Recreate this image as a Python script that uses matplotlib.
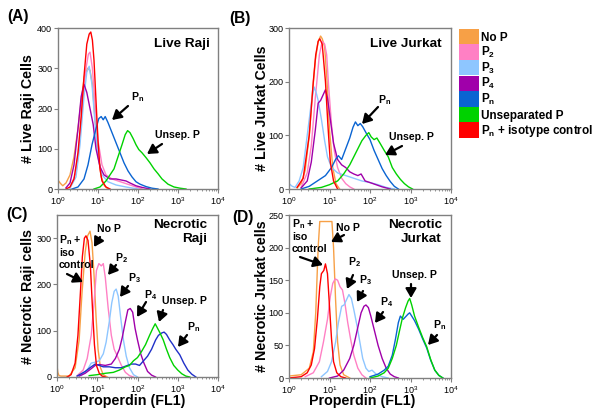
import numpy as np
import matplotlib
matplotlib.use('Agg')
import matplotlib.pyplot as plt
from matplotlib.patches import Patch, FancyArrowPatch

plt.rcParams['font.family'] = ['Liberation Sans', 'DejaVu Sans']

W, H = 601, 415

# ---------------- legend / series ----------------
SERIES = ['NOP', 'P2', 'P3', 'P4', 'PN', 'UNSEP', 'ISO']
LEGEND_LABELS = ['No P', r'$\mathregular{P_2}$', r'$\mathregular{P_3}$', r'$\mathregular{P_4}$',
                 r'$\mathregular{P_n}$', 'Unseparated P', r'$\mathregular{P_n}$ + isotype control']
COLORS = {'NOP': '#F7A046', 'P2': '#FF80C4', 'P3': '#8EC6FF', 'P4': '#A000AA',
          'PN': '#0A64D2', 'UNSEP': '#00D200', 'ISO': '#FF0000'}

# ---------------- data: (log10 FL1, count) ----------------
# Panel A: Live Raji
A_NOP = ([0, 0.06, 0.12, 0.2, 0.3, 0.4, 0.5, 0.58, 0.66, 0.74, 0.8, 0.86, 0.92, 1.0, 1.08, 1.16, 1.25],
         [22, 14, 8, 15, 35, 80, 150, 220, 280, 300, 295, 260, 180, 90, 30, 8, 0])
A_P2 = ([0.3, 0.45, 0.55, 0.62, 0.7, 0.76, 0.8, 0.86, 0.92, 1.0, 1.1, 1.2, 1.35, 1.5, 1.65, 1.8, 1.95, 2.1],
        [3, 40, 130, 230, 300, 335, 340, 300, 220, 120, 60, 35, 25, 20, 15, 10, 5, 0])
A_P3 = ([0.3, 0.45, 0.55, 0.65, 0.72, 0.78, 0.85, 0.92, 1.0, 1.1, 1.25, 1.45, 1.7, 2.0],
        [2, 30, 110, 230, 290, 305, 260, 170, 80, 35, 18, 10, 5, 0])
A_P4 = ([0.2, 0.3, 0.4, 0.5, 0.58, 0.65, 0.72, 0.8, 0.88, 0.95, 1.05, 1.15, 1.3, 1.45, 1.6, 1.7, 1.8, 1.95, 2.1, 2.3],
        [3, 15, 60, 150, 230, 260, 240, 200, 160, 100, 55, 35, 25, 25, 22, 20, 15, 8, 4, 0])
A_PN = ([0.35, 0.5, 0.65, 0.75, 0.85, 0.95, 1.02, 1.08, 1.13, 1.18, 1.25, 1.35, 1.45, 1.55, 1.65, 1.75, 1.85, 1.95, 2.05, 2.2, 2.35, 2.5],
        [0, 5, 25, 60, 110, 150, 175, 180, 172, 180, 165, 140, 115, 90, 65, 45, 30, 18, 12, 6, 2, 0])
A_UNSEP = ([0.9, 1.05, 1.2, 1.3, 1.4, 1.5, 1.6, 1.68, 1.74, 1.8, 1.88, 1.95, 2.02, 2.1, 2.2, 2.3, 2.4, 2.5, 2.6, 2.75, 2.9, 3.05, 3.2],
           [0, 5, 20, 35, 50, 80, 110, 135, 145, 140, 125, 110, 98, 90, 78, 65, 50, 38, 25, 12, 5, 2, 0])
A_ISO = ([0.2, 0.3, 0.4, 0.5, 0.58, 0.65, 0.72, 0.78, 0.82, 0.86, 0.9, 0.95, 1.0, 1.05, 1.1, 1.2, 1.3],
         [0, 5, 25, 90, 180, 280, 360, 385, 390, 370, 320, 220, 120, 50, 20, 5, 0])

# Panel B: Live Jurkat
B_NOP = ([0.2, 0.3, 0.4, 0.5, 0.58, 0.65, 0.72, 0.78, 0.82, 0.88, 0.94, 1.0, 1.08, 1.16, 1.25],
         [2, 10, 35, 100, 180, 240, 275, 285, 280, 265, 200, 110, 40, 10, 0])
B_P2 = ([0.3, 0.45, 0.55, 0.65, 0.75, 0.82, 0.88, 0.93, 0.98, 1.05, 1.12, 1.2, 1.3, 1.4, 1.5, 1.6],
        [3, 30, 80, 170, 250, 275, 270, 250, 190, 120, 70, 40, 20, 10, 4, 0])
B_P3 = ([0, 0.08, 0.15, 0.25, 0.35, 0.45, 0.55, 0.62, 0.67, 0.72, 0.8, 0.88, 0.95, 1.05, 1.2, 1.4, 1.6, 1.8, 2.0, 2.2, 2.4, 2.6],
        [10, 5, 3, 15, 40, 100, 160, 190, 180, 165, 130, 90, 60, 40, 30, 25, 20, 15, 12, 8, 3, 0])
B_P4 = ([0.3, 0.45, 0.55, 0.65, 0.72, 0.78, 0.84, 0.9, 0.95, 1.02, 1.1, 1.2, 1.3, 1.4, 1.5, 1.6, 1.7, 1.78, 1.88, 2.0, 2.15, 2.3, 2.5],
        [2, 15, 50, 110, 160, 165, 175, 185, 170, 130, 85, 55, 45, 40, 32, 28, 25, 28, 15, 12, 8, 4, 0])
B_PN = ([0.3, 0.5, 0.7, 0.9, 1.05, 1.15, 1.22, 1.3, 1.4, 1.5, 1.58, 1.64, 1.7, 1.76, 1.82, 1.9, 2.0, 2.1, 2.2, 2.3, 2.4, 2.5, 2.6, 2.7],
        [0, 5, 15, 25, 40, 55, 62, 55, 75, 95, 115, 125, 118, 122, 116, 105, 92, 72, 55, 38, 25, 14, 5, 0])
B_UNSEP = ([0.5, 0.8, 1.0, 1.2, 1.35, 1.5, 1.6, 1.7, 1.8, 1.9, 1.97, 2.03, 2.1, 2.17, 2.25, 2.35, 2.45, 2.55, 2.65, 2.75, 2.85, 2.95, 3.05],
           [0, 3, 8, 15, 28, 45, 60, 75, 90, 100, 105, 97, 92, 95, 85, 72, 60, 40, 28, 18, 10, 4, 0])
B_ISO = ([0.2, 0.35, 0.5, 0.6, 0.66, 0.72, 0.76, 0.82, 0.9, 0.96, 1.02, 1.1, 1.2],
         [3, 20, 100, 200, 250, 275, 280, 270, 200, 120, 50, 15, 0])

# Panel C: Necrotic Raji
C_NOP = ([0, 0.02, 0.05, 0.1, 0.3, 0.45, 0.55, 0.62, 0.7, 0.76, 0.82, 0.87, 0.92, 0.97, 1.02, 1.08, 1.15, 1.25],
         [25, 10, 3, 2, 2, 20, 80, 180, 270, 305, 315, 290, 220, 130, 60, 20, 5, 0])
C_P2 = ([0.5, 0.65, 0.75, 0.85, 0.92, 0.98, 1.04, 1.1, 1.15, 1.2, 1.27, 1.35, 1.42, 1.5, 1.6, 1.7, 1.8, 1.9],
        [3, 15, 40, 90, 160, 230, 245, 240, 245, 215, 150, 90, 60, 45, 25, 10, 3, 0])
C_P3 = ([0.6, 0.75, 0.85, 0.95, 1.05, 1.15, 1.22, 1.3, 1.36, 1.42, 1.47, 1.52, 1.58, 1.65, 1.72, 1.8, 1.9, 2.0],
        [3, 15, 30, 32, 35, 50, 75, 120, 160, 185, 190, 175, 130, 80, 45, 20, 5, 0])
C_P4 = ([0.55, 0.7, 0.85, 0.95, 1.05, 1.2, 1.35, 1.45, 1.55, 1.62, 1.7, 1.76, 1.82, 1.88, 1.94, 2.0, 2.08, 2.16, 2.25, 2.35, 2.45],
        [2, 8, 18, 25, 27, 25, 28, 40, 60, 85, 120, 145, 148, 140, 105, 80, 50, 30, 12, 4, 0])
C_PN = ([0.5, 0.7, 0.85, 0.95, 1.05, 1.15, 1.3, 1.45, 1.6, 1.75, 1.85, 1.95, 2.05, 2.15, 2.25, 2.35, 2.45, 2.52, 2.6, 2.66, 2.72, 2.8, 2.88, 2.95, 3.05, 3.15, 3.25, 3.35, 3.45],
        [2, 12, 22, 28, 25, 22, 22, 20, 20, 25, 28, 28, 25, 35, 45, 60, 80, 90, 95, 97, 92, 80, 70, 60, 48, 30, 15, 6, 0])
C_UNSEP = ([0.8, 1.0, 1.2, 1.4, 1.55, 1.7, 1.8, 1.9, 2.0, 2.1, 2.2, 2.3, 2.38, 2.44, 2.5, 2.56, 2.64, 2.72, 2.8, 2.9, 3.0, 3.1, 3.2, 3.3],
           [3, 5, 8, 10, 15, 22, 25, 35, 42, 55, 70, 90, 105, 115, 105, 95, 80, 60, 42, 25, 15, 7, 2, 0])
C_ISO = ([0.25, 0.35, 0.45, 0.52, 0.58, 0.63, 0.68, 0.72, 0.77, 0.83, 0.88, 0.93, 0.98, 1.05, 1.12, 1.2],
         [0, 5, 30, 90, 180, 260, 300, 305, 295, 240, 150, 70, 25, 8, 2, 0])

# Panel D: Necrotic Jurkat
D_NOP = ([0, 0.3, 0.5, 0.6, 0.66, 0.72, 0.76, 0.85, 0.95, 1.06, 1.1, 1.15, 1.2, 1.26, 1.35, 1.5],
         [3, 5, 15, 40, 100, 200, 240, 240, 240, 240, 200, 120, 55, 20, 5, 0])
D_P2 = ([0.4, 0.6, 0.75, 0.85, 0.95, 1.02, 1.08, 1.14, 1.2, 1.26, 1.32, 1.38, 1.45, 1.52, 1.6, 1.7, 1.8, 1.9],
        [2, 8, 25, 55, 90, 125, 145, 152, 150, 140, 135, 115, 85, 60, 35, 15, 5, 0])
D_P3 = ([0.8, 0.95, 1.05, 1.15, 1.22, 1.3, 1.36, 1.42, 1.48, 1.54, 1.6, 1.68, 1.75, 1.82, 1.9, 1.97, 2.05, 2.15, 2.3, 2.45],
        [2, 10, 25, 55, 85, 110, 112, 120, 128, 122, 105, 80, 55, 30, 15, 10, 12, 6, 2, 0])
D_P4 = ([1.0, 1.2, 1.35, 1.5, 1.6, 1.7, 1.78, 1.85, 1.9, 1.96, 2.02, 2.1, 2.2, 2.3, 2.4, 2.5, 2.6, 2.7],
        [0, 3, 12, 30, 50, 78, 100, 110, 112, 108, 95, 75, 50, 30, 15, 6, 2, 0])
D_PN = ([2.0, 2.2, 2.35, 2.45, 2.55, 2.63, 2.7, 2.75, 2.82, 2.88, 2.94, 2.98, 3.03, 3.1, 3.2, 3.3, 3.4, 3.5, 3.6, 3.7, 3.8],
        [2, 6, 12, 18, 35, 60, 85, 95, 90, 94, 98, 100, 95, 88, 75, 60, 46, 27, 12, 4, 0])
D_UNSEP = ([2.0, 2.2, 2.35, 2.45, 2.55, 2.65, 2.72, 2.8, 2.88, 2.94, 2.98, 3.03, 3.1, 3.2, 3.3, 3.4, 3.5, 3.6, 3.7, 3.8],
           [0, 3, 8, 15, 30, 50, 70, 92, 108, 118, 122, 112, 95, 78, 62, 48, 28, 12, 4, 0])
D_ISO = ([0, 0.3, 0.45, 0.55, 0.63, 0.7, 0.76, 0.8, 0.86, 0.9, 0.95, 1.0, 1.05, 1.1, 1.18, 1.28, 1.4],
         [0, 2, 8, 20, 45, 90, 140, 160, 165, 175, 160, 110, 60, 25, 8, 2, 0])

PANELS = {
    'A': dict(data={'NOP': A_NOP, 'P2': A_P2, 'P3': A_P3, 'P4': A_P4, 'PN': A_PN, 'UNSEP': A_UNSEP, 'ISO': A_ISO},
              ylim=400, yticks=[0, 100, 200, 300, 400], ylabel='# Live Raji Cells'),
    'B': dict(data={'NOP': B_NOP, 'P2': B_P2, 'P3': B_P3, 'P4': B_P4, 'PN': B_PN, 'UNSEP': B_UNSEP, 'ISO': B_ISO},
              ylim=300, yticks=[0, 100, 200, 300], ylabel='# Live Jurkat Cells'),
    'C': dict(data={'NOP': C_NOP, 'P2': C_P2, 'P3': C_P3, 'P4': C_P4, 'PN': C_PN, 'UNSEP': C_UNSEP, 'ISO': C_ISO},
              ylim=350, yticks=[0, 100, 200, 300], ylabel='# Necrotic Raji cells'),
    'D': dict(data={'NOP': D_NOP, 'P2': D_P2, 'P3': D_P3, 'P4': D_P4, 'PN': D_PN, 'UNSEP': D_UNSEP, 'ISO': D_ISO},
              ylim=250, yticks=[0, 50, 100, 150, 200, 250], ylabel='# Necrotic Jurkat cells'),
}

# axes boxes in pixels: left, top, right, bottom
BOXES = {'A': (58, 28, 218, 189), 'B': (289, 28, 451, 189),
         'C': (57, 215, 218, 377), 'D': (289, 215, 451, 378)}


def fx(x):
    return x / W


def fy(y):
    return 1 - y / H


fig = plt.figure(figsize=(W / 100, H / 100), dpi=100)
GRAY = '#808080'
axes = {}
for key, p in PANELS.items():
    l, t, r, b = BOXES[key]
    ax = fig.add_axes([fx(l), fy(b), (r - l) / W, (b - t) / H])
    axes[key] = ax
    for s in SERIES:
        lx, yv = p['data'][s]
        col = COLORS[s]
        if key == 'C' and s == 'PN':
            col = '#2030C8'
        ax.plot(np.power(10.0, lx), yv, color=col, lw=1.0)
    ax.set_xscale('log')
    ax.set_xlim(1, 1e4)
    ax.set_ylim(0, p['ylim'])
    ax.set_yticks(p['yticks'])
    for sp in ax.spines.values():
        sp.set_color(GRAY)
        sp.set_linewidth(1.0)
    ax.tick_params(which='major', direction='out', length=3, width=0.8, color=GRAY,
                   labelsize=6.5, pad=1.2)
    ax.tick_params(which='minor', direction='out', length=1.6, width=0.6, color=GRAY)
    ax.set_ylabel(p['ylabel'], fontsize=10.3, fontweight='bold', va='center')

axes['A'].yaxis.set_label_coords((28 - 58) / 160, 0.5)
axes['B'].yaxis.set_label_coords((262 - 289) / 162, 0.5)
axes['C'].yaxis.set_label_coords((28 - 57) / 161, 0.5)
axes['D'].yaxis.set_label_coords((262 - 289) / 162, 0.5)
for key, cx in (('C', 132.5), ('D', 362.5)):
    l, t, r, b = BOXES[key]
    axes[key].set_xlabel('Properdin (FL1)', fontsize=10.3, fontweight='bold', va='center')
    axes[key].xaxis.set_label_coords((cx - l) / (r - l), (b - 401) / (b - t))

# panel letters
for txt, x, y in (('(A)', 7, 17), ('(B)', 229, 19), ('(C)', 6, 214), ('(D)', 232, 217)):
    fig.text(fx(x), fy(y), txt, fontsize=11.2, fontweight='bold', ha='left', va='center')

# panel titles
for txt, x, y in (('Live Raji', 210, 44), ('Live Jurkat', 442, 44),
                  ('Necrotic\nRaji', 207, 219), ('Necrotic\nJurkat', 442, 219)):
    fig.text(fx(x), fy(y), txt, fontsize=9.7, fontweight='bold', ha='right',
             va='center' if '\n' not in txt else 'top', multialignment='right', linespacing=1.25)

# annotation labels (left x, center y)
PN = r'$\mathregular{P_n}$'
LABELS = [
    (PN, 131, 97), ('Unsep. P', 155, 135),
    (PN, 378, 100), ('Unsep. P', 389, 137),
    ('No P', 97, 229), (r'$\mathregular{P_2}$', 115, 258), (r'$\mathregular{P_3}$', 128, 278),
    (r'$\mathregular{P_4}$', 144, 295), ('Unsep. P', 162, 301), (PN, 187, 327),
    ('No P', 336, 228), (r'$\mathregular{P_2}$', 348, 262), (r'$\mathregular{P_3}$', 359, 280),
    (r'$\mathregular{P_4}$', 380, 302), ('Unsep. P', 392, 275), (PN, 433, 325),
]
for txt, x, y in LABELS:
    fig.text(fx(x), fy(y), txt, fontsize=7.6, fontweight='bold', ha='left', va='center')
for x, y in ((59, 233), (292, 217)):
    fig.text(fx(x), fy(y), PN + ' +\niso\ncontrol', fontsize=7.6, fontweight='bold',
             ha='left', va='top', linespacing=1.2)

# arrows: (tail x, tail y, head x, head y)
ARROWS = [
    (128, 106, 112, 120), (162, 144, 147, 154),
    (378, 107, 362, 124), (402, 146, 385, 155),
    (100, 237, 94, 247), (67, 274, 83, 282), (116, 265, 108, 275), (128, 286, 120, 297),
    (146, 302, 137, 317), (163, 310, 159, 322), (187, 335, 178, 347),
    (344, 235, 331, 242), (300, 257, 323, 265), (353, 275, 347, 289), (363, 291, 357, 302),
    (383, 312, 375, 323), (411, 284, 411, 298), (437, 335, 428, 345),
]
for x0, y0, x1, y1 in ARROWS:
    fig.add_artist(FancyArrowPatch(
        (fx(x0), fy(y0)), (fx(x1), fy(y1)), transform=fig.transFigure,
        arrowstyle='-|>,head_length=0.55,head_width=0.32', mutation_scale=10,
        color='black', lw=1.6, shrinkA=0, shrinkB=0))

# legend
handles = [Patch(facecolor=COLORS[s], edgecolor='none') for s in SERIES]
fig.legend(handles, LEGEND_LABELS, loc='upper left', bbox_to_anchor=(fx(459), fy(29)),
           frameon=False, prop={'size': 8.5, 'weight': 'bold'}, handlelength=1.66,
           handleheight=1.63, labelspacing=0.0, handletextpad=0.2, borderpad=0, borderaxespad=0)

fig.savefig('out.png', dpi=100)
